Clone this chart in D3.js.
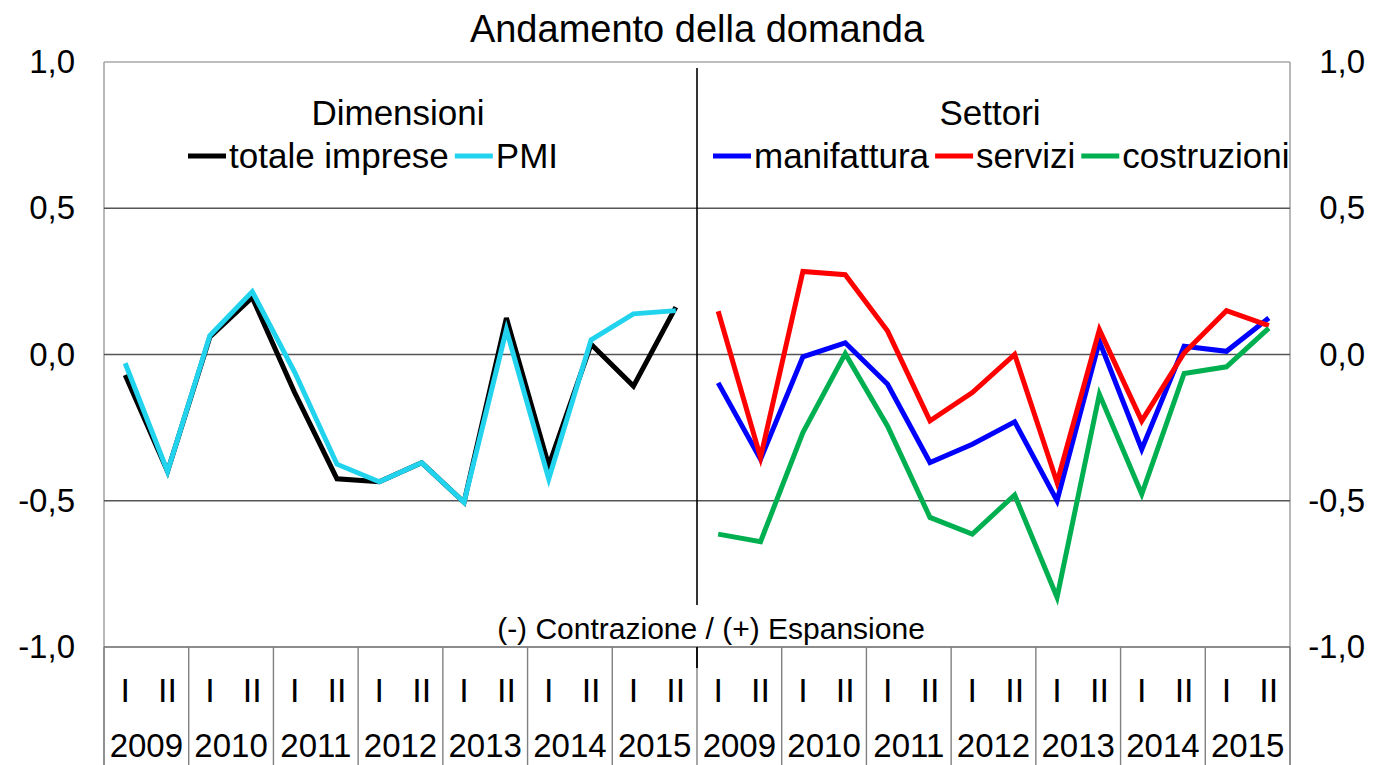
<!DOCTYPE html>
<html><head><meta charset="utf-8">
<script src="https://cdn.jsdelivr.net/npm/d3@7"></script>
<style>
html,body{margin:0;padding:0;background:#fff;}
text{font-family:"Liberation Sans",Arial,sans-serif;fill:#000;}
</style></head>
<body>
<svg id="chart" width="1383" height="765"></svg>
<script>
// ---- data ----
const years = ["2009","2010","2011","2012","2013","2014","2015"];
const halves = ["I","II"];
const yTicks = [1.0, 0.5, 0.0, -0.5, -1.0];

const totaleImprese = [-0.07,-0.40,0.06,0.195,-0.13,-0.425,-0.435,-0.37,-0.505,0.125,-0.38,0.035,-0.108,0.162];
const pmi           = [-0.03,-0.40,0.065,0.215,-0.06,-0.375,-0.435,-0.37,-0.505,0.085,-0.425,0.05,0.139,0.15];

const manifattura = [-0.097,-0.358,-0.008,0.04,-0.102,-0.369,-0.307,-0.23,-0.50,0.045,-0.324,0.028,0.011,0.125];
const servizi     = [0.148,-0.352,0.284,0.273,0.08,-0.227,-0.13,0.0,-0.4375,0.085,-0.227,0.005,0.15,0.099];
const costruzioni = [-0.614,-0.64,-0.267,0.003,-0.245,-0.557,-0.614,-0.48,-0.83,-0.136,-0.477,-0.065,-0.042,0.09];

const leftSeries = [
  {name:"totale imprese", color:"#000000", values: totaleImprese},
  {name:"PMI", color:"#22d3ee", values: pmi}
];
const rightSeries = [
  {name:"manifattura", color:"#0000ff", values: manifattura},
  {name:"servizi", color:"#ff0000", values: servizi},
  {name:"costruzioni", color:"#00b050", values: costruzioni}
];

// ---- layout ----
const svg = d3.select("#chart");
const L = 104, R = 1290, T = 62, B = 647;

const cats = [];
for (let p = 0; p < 2; p++) for (const yr of years) for (const h of halves) cats.push(p + "-" + yr + "-" + h);
const yearCats = [];
for (let p = 0; p < 2; p++) for (const yr of years) yearCats.push(p + "-" + yr);

const x = d3.scaleBand().domain(cats).range([L, R]).padding(0);
const xYear = d3.scaleBand().domain(yearCats).range([L, R]).padding(0);
const y = d3.scaleLinear().domain([-1, 1]).range([B, T]);
const xc = c => x(c) + x.bandwidth() / 2;

// title
svg.append("text").attr("x", 697).attr("y", 42).attr("text-anchor", "middle")
  .style("font-size", "38px").text("Andamento della domanda");

// plot frame
svg.append("line").attr("x1", L).attr("x2", R).attr("y1", T).attr("y2", T).attr("stroke", "#a8a8a8").attr("stroke-width", 1.5);
svg.append("line").attr("x1", L).attr("x2", L).attr("y1", T).attr("y2", 765).attr("stroke", "#a0a0a0").attr("stroke-width", 1.5);
svg.append("line").attr("x1", R).attr("x2", R).attr("y1", T).attr("y2", 765).attr("stroke", "#a0a0a0").attr("stroke-width", 1.5);

// gridlines
svg.append("g").selectAll("line").data([0.5, 0, -0.5]).join("line")
  .attr("x1", L).attr("x2", R).attr("y1", d => y(d)).attr("y2", d => y(d))
  .attr("stroke", "#555").attr("stroke-width", 1.4);
svg.append("line").attr("x1", L).attr("x2", R).attr("y1", B).attr("y2", B).attr("stroke", "#666").attr("stroke-width", 1.4);

// y axes
const fmt = d => d3.format(".1f")(d).replace(".", ",").replace("−", "-");
const yAxL = d3.axisLeft(y).tickValues(yTicks).tickFormat(fmt).tickSize(0).tickPadding(0);
const gL = svg.append("g").attr("transform", "translate(75,0)").call(yAxL);
const yAxR = d3.axisLeft(y).tickValues(yTicks).tickFormat(fmt).tickSize(0).tickPadding(0);
const gR = svg.append("g").attr("transform", "translate(1365,0)").call(yAxR);
[gL, gR].forEach(g => {
  g.select(".domain").remove();
  g.selectAll("text").style("font-size", "33px").style("font-family", '"Liberation Sans",Arial,sans-serif').attr("fill", "#000");
});

// category table
svg.append("g").selectAll("line").data(d3.range(yearCats.length + 1)).join("line")
  .attr("x1", i => i < yearCats.length ? xYear(yearCats[i]) : R)
  .attr("x2", i => i < yearCats.length ? xYear(yearCats[i]) : R)
  .attr("y1", B).attr("y2", 765).attr("stroke", "#808080").attr("stroke-width", 1.4);

svg.append("g").selectAll("text").data(cats).join("text")
  .attr("x", d => xc(d)).attr("y", 702).attr("text-anchor", "middle")
  .style("font-size", "34px").text(d => d.split("-")[2]);

svg.append("g").selectAll("text").data(yearCats).join("text")
  .attr("x", d => xYear(d) + xYear.bandwidth() / 2).attr("y", 757).attr("text-anchor", "middle")
  .style("font-size", "33px").text(d => d.split("-")[1]);

// panel divider
const midX = xYear("1-2009");
svg.append("line").attr("x1", midX).attr("x2", midX).attr("y1", 68).attr("y2", 605).attr("stroke", "#000").attr("stroke-width", 1.6);
svg.append("line").attr("x1", midX).attr("x2", midX).attr("y1", B).attr("y2", 668).attr("stroke", "#000").attr("stroke-width", 1.8);

// note
svg.append("text").attr("x", 711).attr("y", 639).attr("text-anchor", "middle")
  .style("font-size", "30px").text("(-) Contrazione / (+) Espansione");

// lines
const line = d3.line().x(d => xc(d.c)).y(d => y(d.v));
function drawSeries(list, panel) {
  list.forEach(s => {
    const pts = s.values.map((v, i) => ({c: cats[panel * 14 + i], v}));
    svg.append("path").datum(pts).attr("d", line).attr("fill", "none")
      .attr("stroke", s.color).attr("stroke-width", 5).attr("stroke-linejoin", "miter");
  });
}
drawSeries(leftSeries, 0);
drawSeries(rightSeries, 1);

// panel titles & legends
svg.append("text").attr("x", 398).attr("y", 125).attr("text-anchor", "middle").style("font-size", "35px").text("Dimensioni");
svg.append("text").attr("x", 990).attr("y", 125).attr("text-anchor", "middle").style("font-size", "35px").text("Settori");

function legend(list, startX) {
  let cx = startX;
  const yy = 168;
  list.forEach(s => {
    svg.append("line").attr("x1", cx).attr("x2", cx + 38).attr("y1", yy - 12).attr("y2", yy - 12)
      .attr("stroke", s.color).attr("stroke-width", 5);
    cx += 41;
    const t = svg.append("text").attr("x", cx).attr("y", yy).style("font-size", "35px").text(s.name);
    cx += t.node().getComputedTextLength() + 6;
  });
}
legend(leftSeries, 188);
legend(rightSeries, 713);
</script>
</body></html>
